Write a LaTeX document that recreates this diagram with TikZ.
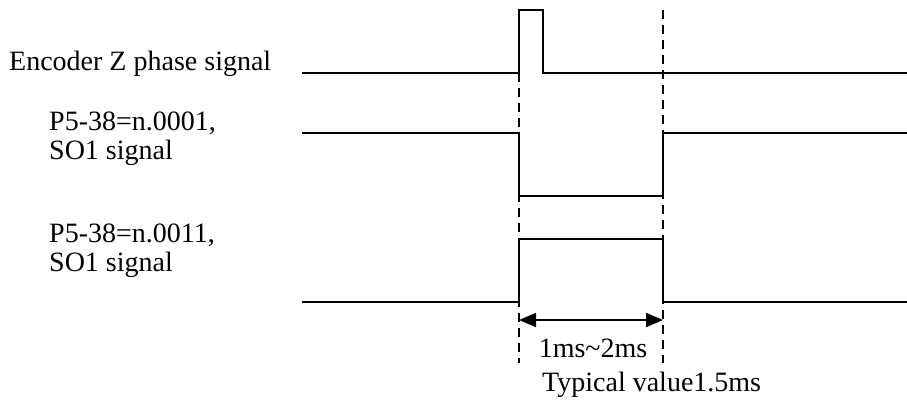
\documentclass[tikz,border=0pt]{standalone}
\usepackage{fontspec}
\setmainfont{Liberation Serif}
\usetikzlibrary{arrows.meta}
\begin{document}
\begin{tikzpicture}[x=1pt,y=-1pt,
  sig/.style={line width=1.6pt,line join=miter},
  guide/.style={line width=1.4pt,dash pattern=on 9pt off 6pt},
  lbl/.style={font=\fontsize{28}{33}\selectfont,inner sep=0pt},
  dimarrow/.style={line width=1.8pt,{Triangle[length=17pt,width=14pt]}-{Triangle[length=17pt,width=14pt]}}]
\useasboundingbox (0,0) rectangle (907,405);
% guides
\coordinate (gLtop) at (519,73);
\coordinate (gLbot) at (519,363);
\coordinate (gRtop) at (663,10);
\coordinate (gRbot) at (663,363);
\draw[guide] (gLtop) -- (gLbot);
\draw[guide] (gRtop) -- (gRbot);
% encoder Z
\coordinate (z0) at (302,73);
\coordinate (z1) at (907,73);
\draw[sig] (z0) -- (519,73) -- (519,10) -- (543,10) -- (543,73) -- (z1);
% SO1 n.0001
\coordinate (a0) at (302,133);
\coordinate (a1) at (907,133);
\draw[sig] (a0) -- (519,133) -- (519,196) -- (663,196) -- (663,133) -- (a1);
% SO1 n.0011
\coordinate (b0) at (302,302);
\coordinate (b1) at (907,302);
\draw[sig] (b0) -- (519,302) -- (519,239) -- (663,239) -- (663,302) -- (b1);
% dimension
\coordinate (dL) at (519,320);
\coordinate (dR) at (663,320);
\draw[dimarrow] (dL) -- (dR);
% labels
\node[lbl,anchor=base west] (tz) at (9,70) {Encoder Z phase signal};
\node[lbl,anchor=base west] (ta1) at (49,130) {P5-38=n.0001,};
\node[lbl,anchor=base west] (ta2) at (49,159) {SO1 signal};
\node[lbl,anchor=base west] (tb1) at (49,242) {P5-38=n.0011,};
\node[lbl,anchor=base west] (tb2) at (49,271) {SO1 signal};
\node[lbl,anchor=base] (td) at (593,357) {1ms\textasciitilde2ms};
\node[lbl,anchor=base west] (tt) at (542,391) {Typical value1.5ms};
\end{tikzpicture}
\end{document}
